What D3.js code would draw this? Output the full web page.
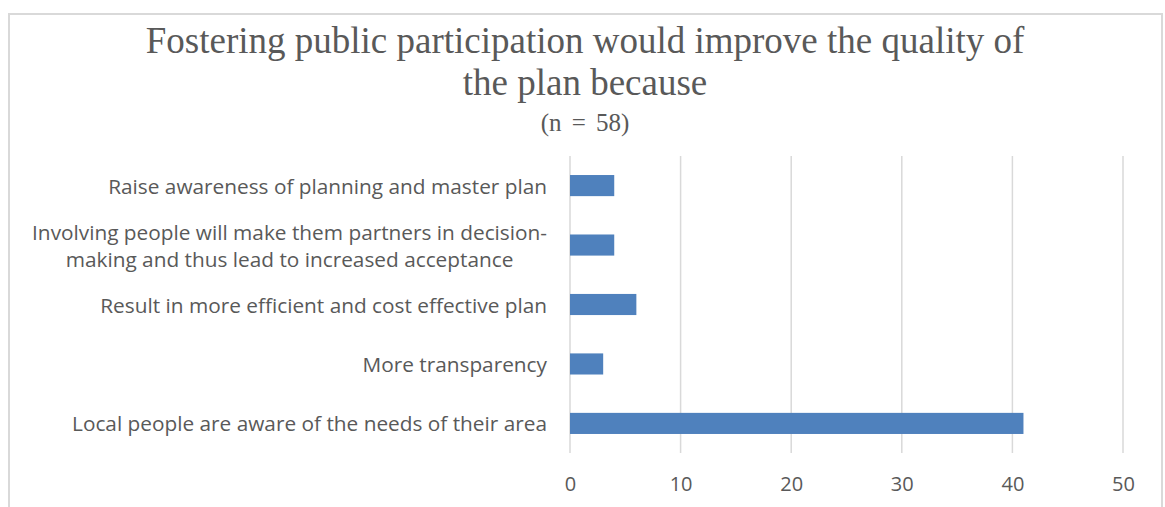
<!DOCTYPE html>
<html>
<head>
<meta charset="utf-8">
<script src="https://cdn.jsdelivr.net/npm/d3@7"></script>
<style>
  html, body { margin: 0; padding: 0; background: #fff; }
  svg { display: block; }
</style>
</head>
<body>
<svg id="chart" width="1165" height="507"></svg>
<script>
// Survey responses, drawn top to bottom
const categories = [
  "Raise awareness of planning and master plan",
  "Involving people will make them partners in decision-|making and thus lead to increased acceptance",
  "Result in more efficient and cost effective plan",
  "More transparency",
  "Local people are aware of the needs of their area"
];
const counts = [4, 4, 6, 3, 41];
const xTicks = [0, 10, 20, 30, 40, 50];
const titleLines = ["Fostering public participation would improve the quality of", "the plan because"];
const subtitle = "(n = 58)";

const svg = d3.select("#chart");
const W = 1165, H = 507;
const margin = { left: 570, right: 42, top: 156, bottom: 54 };
const textColor = "#595959";
const gridColor = "#d9d9d9";
const barColor = "#4f81bd";

// Outer chart frame (bottom edge runs past the view)
svg.append("path")
  .attr("d", `M9,${H + 5} V14 H1162 V${H + 5}`)
  .attr("fill", "none")
  .attr("stroke", gridColor)
  .attr("stroke-width", 2);

const x = d3.scaleLinear().domain([0, 50]).range([margin.left, W - margin.right]);
const y = d3.scaleBand().domain(categories).range([margin.top, H - margin.bottom]).paddingInner(0.645).paddingOuter(0.32);

// Vertical gridlines
svg.append("g")
  .selectAll("line")
  .data(xTicks)
  .join("line")
  .attr("x1", d => x(d)).attr("x2", d => x(d))
  .attr("y1", margin.top).attr("y2", H - margin.bottom)
  .attr("stroke", gridColor)
  .attr("stroke-width", 1.5);

// Bars
svg.append("g")
  .selectAll("rect")
  .data(categories)
  .join("rect")
  .attr("x", x(0))
  .attr("y", d => y(d))
  .attr("width", (d, i) => x(counts[i]) - x(0))
  .attr("height", y.bandwidth())
  .attr("fill", barColor);

// Value axis tick labels
const xAxis = svg.append("g")
  .attr("transform", `translate(0,${H - margin.bottom})`)
  .call(d3.axisBottom(x).tickValues(xTicks).tickSize(0).tickPadding(24));
xAxis.select(".domain").remove();
xAxis.selectAll("text")
  .attr("fill", textColor)
  .style("font-family", "'Open Sans', sans-serif")
  .style("font-size", "20px");

// Category labels (multi-line labels are centred on their longest line)
const labelFont = "'Open Sans', sans-serif";
const labelSize = 20.8;
const lineH = 27;
const labelG = svg.append("g");
categories.forEach((c, i) => {
  const lines = c.split("|");
  const cy = y(c) + y.bandwidth() / 2;
  const t = labelG.append("text")
    .attr("fill", textColor)
    .style("font-family", labelFont)
    .style("font-size", labelSize + "px")
    .attr("dominant-baseline", "central");
  if (lines.length === 1) {
    t.attr("x", 547).attr("y", cy).attr("text-anchor", "end").text(lines[0]);
  } else {
    t.attr("text-anchor", "middle");
    // width of the longest line, so the block stays flush with the right edge
    const probe = labelG.append("text").style("font-family", labelFont).style("font-size", labelSize + "px").text(lines[0]);
    const w = probe.node().getComputedTextLength();
    probe.remove();
    const cx = 547 - w / 2;
    lines.forEach((ln, k) => {
      t.append("tspan")
        .attr("x", cx)
        .attr("y", cy + (k - (lines.length - 1) / 2) * lineH)
        .text(ln);
    });
  }
});

// Title
const title = svg.append("text")
  .attr("text-anchor", "middle")
  .attr("fill", textColor)
  .style("font-family", "'Liberation Serif', 'Times New Roman', serif");
title.selectAll("tspan")
  .data(titleLines)
  .join("tspan")
  .attr("x", 585)
  .attr("y", (d, i) => 53 + i * 42)
  .style("font-size", "37px")
  .text(d => d);
svg.append("text")
  .attr("text-anchor", "middle")
  .attr("x", 585).attr("y", 131)
  .attr("fill", textColor)
  .style("font-family", "'Liberation Serif', 'Times New Roman', serif")
  .style("font-size", "25px")
  .style("word-spacing", "4px")
  .text(subtitle);
</script>
</body>
</html>
